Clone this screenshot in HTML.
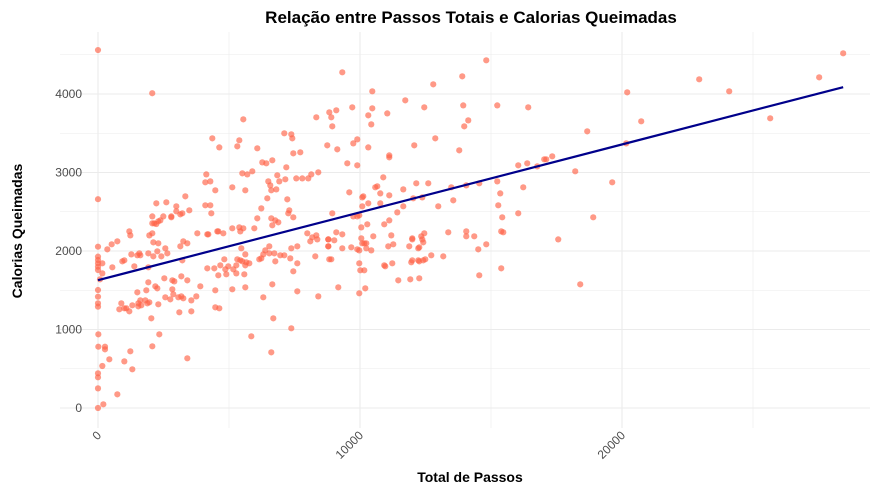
<!DOCTYPE html>
<html><head><meta charset="utf-8"><style>
body{margin:0;background:#fff;font-family:"Liberation Sans",sans-serif}
svg{display:block}
</style></head><body>
<svg id="chart" width="888" height="492">
<text x="471" y="23" text-anchor="middle" font-size="17" font-weight="bold" fill="#000">Relação entre Passos Totais e Calorias Queimadas</text>
<text x="470" y="482" text-anchor="middle" font-size="14" font-weight="bold" fill="#000">Total de Passos</text>
<text transform="translate(22,231) rotate(-90)" text-anchor="middle" font-size="14" font-weight="bold" fill="#000">Calorias Queimadas</text>
<g id="grid"></g><g id="axes"></g><g id="pts"></g><g id="fit"></g>
</svg>
<script>
const steps=[2070,0,0,0,0,0,0,0,0,165,165,76,0,0,0,0,13,13,267,267,432,165,0,0,0,0,204,738,1005,1234,1310,2073,2340,3409,2035,356,522,738,1196,1234,547,929,1005,1272,1386,1501,1577,1615,1921,1921,2112,2073,1959,2112,2302,2264,2417,2569,2646,3142,3256,3409,3218,1501,1921,1844,2188,2264,2531,2837,2913,3180,3409,3905,2837,2875,2569,2760,3066,3180,3256,3752,3562,3104,3562,814,890,1005,1081,1196,1310,1539,1615,1806,1883,1959,2302,1539,1654,2073,2073,2150,2226,2302,2379,2493,2798,2798,2989,2989,3142,3218,3485,3333,2226,2608,3791,4172,4210,4554,4592,4783,5126,5393,5431,5546,5966,6080,6233,6462,6614,6767,6882,6653,4096,4287,4325,4096,4287,4477,4134,4363,4630,5317,5393,5546,6080,6271,6424,6653,6843,6920,6500,6576,6614,6805,7149,7187,7110,7378,7416,7454,7721,7568,7797,8026,8141,8408,8332,7225,7301,7263,7454,5126,5622,5508,5699,5889,4172,4439,4592,4668,4821,4859,4897,4973,5126,5164,5279,5279,5317,5431,5508,5622,5660,5775,5584,5622,5470,5622,4477,4477,4630,5851,6156,6233,6309,6385,6538,6538,6729,6767,6958,7110,7339,7378,7607,7607,7454,7607,6653,6309,6691,7378,6614,7988,8103,8179,8332,8370,8293,8790,8790,8408,8828,
9324,14819,13903,12796,10469,11728,8828,9095,9705,10469,8904,10316,11041,12453,13941,15239,16421,10430,8942,14132,13979,12873,18673,8751,9133,9744,9896,10316,12071,13788,11117,11117,9515,9896,16040,16383,16765,17032,17108,17337,18215,10888,10583,10659,12148,12606,11652,13483,14056,14552,15239,16231,9591,10774,11117,10087,10125,10316,10087,10774,11652,12033,12377,12987,13560,15353,15277,8942,9744,9896,9972,11423,11117,15429,16040,18902,10278,10049,10926,9095,9324,8790,9018,10507,11194,10049,10087,10163,10240,8790,9324,9667,9896,9972,10240,10430,11079,11270,11880,11995,11995,12338,12453,12415,12377,12224,12262,13369,14056,14056,14361,14514,14819,15391,15468,17566,8904,9972,10011,10163,10926,10964,11232,11957,11995,12224,12262,12415,12491,12720,13178,11461,11919,12262,14552,15391,18406,9171,10201,9972,
20199,20734,20161,19627,22947,24092,25657,27526,28442];
const calories=[4010,4560,2660,2055,1928,1885,1843,1800,1758,1843,1715,1639,1503,1418,1333,1291,938,781,781,747,620,535,442,391,250,0,47,174,594,722,493,786,938,633,1142,2021,2085,2123,2250,2199,1792,1868,1881,1957,1805,1945,1970,1945,1970,1792,1932,2225,2199,2110,2098,1996,1932,2034,1970,2059,2123,2098,1881,1473,1601,1499,1550,1524,1652,1626,1613,1677,1626,1550,1512,1448,1410,1384,1410,1422,1397,1422,1371,1219,1231,1257,1333,1270,1270,1231,1308,1333,1371,1371,1333,1346,1321,1295,1308,2441,2352,2352,2344,2378,2390,2441,2441,2429,2569,2505,2467,2480,2518,2696,2607,2620,2225,2212,2212,2250,2250,2225,2289,2301,2250,2289,2289,2416,2543,2671,2416,2390,2365,2327,2582,2582,2480,2875,2887,2773,2976,3435,3320,3333,3410,3677,3308,3129,3117,3155,2964,2887,2887,2836,2773,2785,2913,3066,3499,3486,3435,3244,3257,2925,2925,2925,2976,3002,3703,2658,2518,2480,2429,2811,2773,2989,2976,3015,1779,1779,1690,1817,1894,1766,1703,1805,1512,1766,1715,1817,1894,1881,1868,1817,1856,1843,1703,1537,2034,1957,1499,1282,1270,913,1894,1906,1957,2008,2059,1970,1970,1868,1945,1945,1906,2034,2059,1843,1741,1486,1575,1410,1142,1015,709,2225,2123,2174,2199,2148,1932,2148,2059,1422,1894,
4276,4429,4225,4123,4034,3919,3766,3792,3830,3817,3703,3728,3753,3830,3855,3855,3830,3613,3588,3664,3588,3435,3524,3346,3295,3371,3422,3320,3346,3282,3218,3193,3117,3091,3091,3117,3078,3168,3168,3206,3015,2938,2811,2824,2862,2862,2785,2811,2836,2862,2887,2811,2747,2734,2709,2683,2696,2607,2569,2607,2569,2671,2683,2569,2645,2734,2582,2480,2441,2441,2454,2492,2390,2429,2480,2429,2340,2301,2340,2238,2212,2148,2136,2187,2199,2161,2098,2098,2098,2059,2034,2047,2021,2008,2034,2008,2059,2085,2059,2161,2148,2187,2225,2110,2148,2034,2047,2238,2250,2187,2187,2021,2085,2250,2238,2148,1894,1843,1754,1754,1817,1805,1843,1856,1881,1881,1868,1881,1894,1945,1932,1626,1639,1652,1690,1779,1575,1537,1524,1461,
4021,3652,3371,2875,4187,4034,3690,4212,4518];
const xTicks=[0,10000,20000];
const xTickLabels=["0","10000","20000"];
const yTicks=[0,1000,2000,3000,4000];
const yTickLabels=["0","1000","2000","3000","4000"];

const NS="http://www.w3.org/2000/svg";
const X=v=>98+v*0.0262;
const Y=v=>408-v*0.0785;
const L=60,R=870,T=32,B=428;
function mk(tag,attrs,parent){const e=document.createElementNS(NS,tag);for(const k in attrs)e.setAttribute(k,attrs[k]);parent.appendChild(e);return e;}
const grid=document.getElementById('grid'),axes=document.getElementById('axes'),pts=document.getElementById('pts'),fit=document.getElementById('fit');
for(let v=0;v<=4500;v+=500){const e=mk('line',{x1:L,x2:R,y1:Y(v),y2:Y(v),stroke:'#ebebeb','stroke-width':v%1000?0.6:1.1},grid);

}
for(let v=0;v<=25000;v+=5000){const e=mk('line',{x1:X(v),x2:X(v),y1:T,y2:B,stroke:'#ebebeb','stroke-width':v%10000?0.6:1.1},grid);

}
yTicks.forEach((v,i)=>{const t=mk('text',{x:82,y:Y(v)+4,'text-anchor':'end','font-size':12,fill:'#4d4d4d'},axes);t.textContent=yTickLabels[i];

});
xTicks.forEach((v,i)=>{const t=mk('text',{transform:`translate(${X(v)+4},${436}) rotate(-45)`,'text-anchor':'end','font-size':12,fill:'#4d4d4d'},axes);t.textContent=xTickLabels[i];

});
steps.forEach((s,i)=>{const c=mk('circle',{cx:X(s),cy:Y(calories[i]),r:3.1,fill:'#FF6347','fill-opacity':0.65},pts);

});
// OLS fit
const n=steps.length;let mx=0,my=0;for(let i=0;i<n;i++){mx+=steps[i];my+=calories[i];}mx/=n;my/=n;
let sxy=0,sxx=0;for(let i=0;i<n;i++){sxy+=(steps[i]-mx)*(calories[i]-my);sxx+=(steps[i]-mx)**2;}
const b=sxy/sxx,a=my-b*mx;const x0=Math.min(...steps),x1=Math.max(...steps);
const ln=mk('line',{x1:X(x0),y1:Y(a+b*x0),x2:X(x1),y2:Y(a+b*x1),stroke:'#00008B','stroke-width':2.2},fit);


</script>
</body></html>
